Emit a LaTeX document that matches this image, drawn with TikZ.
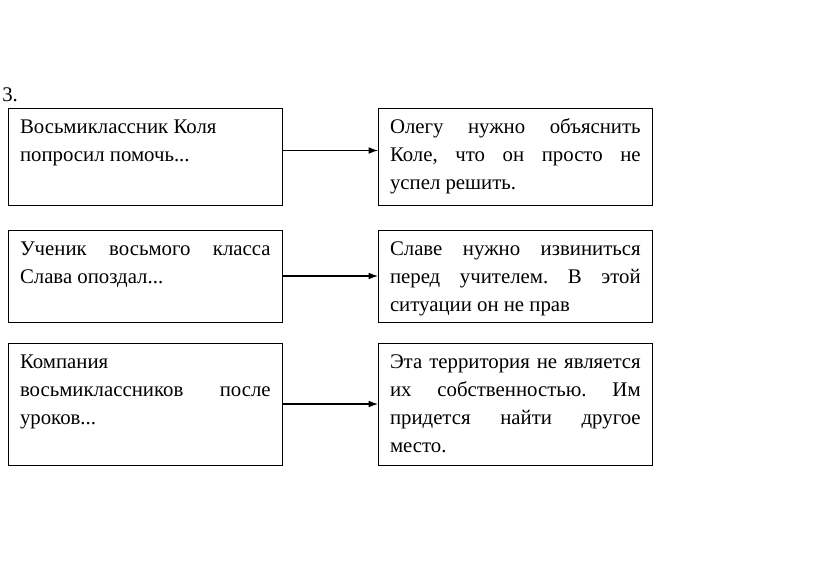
\documentclass[tikz,border=0pt]{standalone}
\usepackage{fontspec}
\setmainfont{Liberation Serif}
\usepackage{tikz}
\usetikzlibrary{arrows.meta}
\frenchspacing
\tikzstyle{tsText} = [ 
    text=black, 
    font=\fontsize{15.6}{21.2}\selectfont
]
\tikzstyle{tsBox} = [ 
    rectangle,
    tsText,
    draw=black,
    line width=0.75pt,
    anchor=north west,
    text width=188pt,
    inner xsep=9pt,
    inner ysep=0pt,
    outer sep=0pt,
    align=justify,
    text height=18.75pt]
\tikzstyle{tsArrow} = [ 
    -{Latex[length=7pt, width=5pt]},
    line width=0.8pt
]

\begin{document}
\begin{tikzpicture} [x=0.75pt, y=-0.75pt]

        \useasboundingbox (0,0) rectangle (823,569);

        % Task number
        \node[tsText, anchor=base west, inner sep=0pt] (num) at (2,101) {3.};

        % Situations (left column)
        \node[tsBox, text depth=54pt] (kolya) at (8,108)
        {Восьмиклассник Коля\newline попросил помочь...};
        \node[tsBox, text depth=50.25pt] (slava) at (8,230)
        {Ученик восьмого класса\linebreak Слава опоздал...};
        \node[tsBox, text depth=72.75pt] (company) at (8,343)
        {Компания\newline восьмиклассников после\linebreak уроков...};

        % Answers (right column)
        \node[tsBox, text depth=54pt] (oleg) at (378,108)
        {Олегу нужно объяснить\linebreak Коле, что он просто не\linebreak успел решить.};
        \node[tsBox, text depth=50.25pt] (apology) at (378,230)
        {Славе нужно извиниться\linebreak перед учителем. В этой\linebreak ситуации он не прав};
        \node[tsBox, text depth=72.75pt] (territory) at (378,343)
        {Эта территория не является\linebreak их собственностью. Им\linebreak придется найти другое\linebreak место.};

        % Connecting arrows
        \draw[tsArrow] ([yshift=4.5pt]kolya.east) -- ([yshift=4.5pt]oleg.west);
        \draw[tsArrow] (slava.east) -- (apology.west);
        \draw[tsArrow] (company.east) -- (territory.west);

\end{tikzpicture}
\end{document}
